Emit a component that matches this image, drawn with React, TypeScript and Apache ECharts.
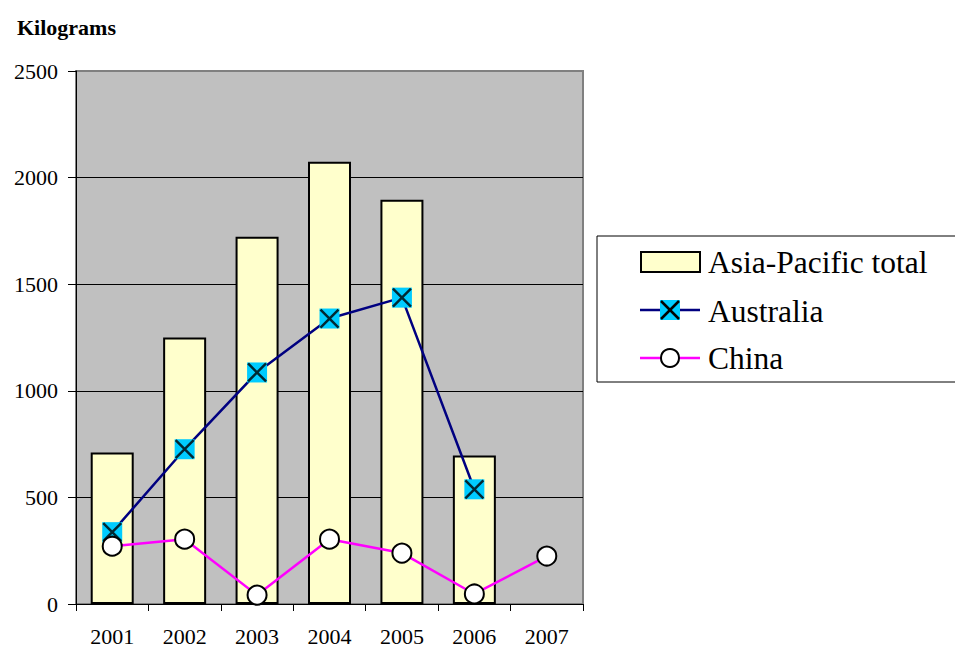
import React, { useEffect, useRef } from "react";
import * as echarts from "echarts";

const years = ["2001", "2002", "2003", "2004", "2005", "2006", "2007"];
const asiaPacificTotal = [711, 1250, 1723, 2074, 1896, 697, null];
const australia = [337, 726, 1086, 1339, 1437, 538, null];
const china = [271, 304, 42, 304, 239, 47, 225];
const yTicks = { min: 0, max: 2500, interval: 500 };

const FONT = "'Liberation Serif', 'Times New Roman', serif";
const X_PATH = "path://M0,0L10,10M10,0L0,10";

export default function App() {
  const ref = useRef<HTMLDivElement>(null);
  useEffect(() => {
    if (!ref.current) return;
    const chart = echarts.init(ref.current, undefined, { renderer: "svg" });
    const lx = 597;
    const ly = 236;
    chart.setOption({
      animation: false,
      backgroundColor: "#ffffff",
      textStyle: { fontFamily: FONT },
      grid: {
        left: 76,
        top: 71,
        right: 372,
        bottom: 43,
        show: true,
        backgroundColor: "#C0C0C0",
        borderColor: "#808080",
        borderWidth: 2,
      },
      xAxis: {
        type: "category",
        data: years,
        boundaryGap: true,
        axisLine: { lineStyle: { color: "#000", width: 1 } },
        axisTick: { show: true, length: 7, lineStyle: { color: "#000" } },
        axisLabel: { color: "#000", fontFamily: FONT, fontSize: 22, margin: 21 },
        splitLine: { show: false },
      },
      yAxis: {
        type: "value",
        min: yTicks.min,
        max: yTicks.max,
        interval: yTicks.interval,
        axisLine: { show: true, lineStyle: { color: "#000", width: 1 } },
        axisTick: { show: true, length: 8, lineStyle: { color: "#000" } },
        axisLabel: {
          color: "#000",
          fontFamily: FONT,
          fontSize: 22,
          margin: 18,
          formatter: (v: number) => String(v),
        },
        splitLine: {
          show: true,
          lineStyle: { color: ["#000", "#000", "#000", "#000", "#000", "#808080"], width: 1 },
        },
      },
      series: [
        {
          name: "Asia-Pacific total",
          type: "bar",
          data: asiaPacificTotal,
          barWidth: 43,
          itemStyle: { color: "#FFFFCC", borderColor: "#000", borderWidth: 2 },
          z: 2,
        },
        {
          name: "Australia",
          type: "line",
          data: australia,
          symbol: "rect",
          symbolSize: 20,
          showAllSymbol: true,
          lineStyle: { color: "#000080", width: 2.5 },
          itemStyle: { color: "#00CCFF", borderWidth: 0 },
          z: 3,
        },
        {
          name: "AustraliaX",
          type: "scatter",
          data: australia,
          symbol: X_PATH,
          symbolSize: 18,
          itemStyle: { color: "none", borderColor: "#000", borderWidth: 2.5 },
          z: 4,
          silent: true,
        },
        {
          name: "China",
          type: "line",
          data: china,
          symbol: "circle",
          symbolSize: 19,
          showAllSymbol: true,
          lineStyle: { color: "#FF00FF", width: 2.5 },
          itemStyle: { color: "#ffffff", borderColor: "#000", borderWidth: 2 },
          z: 5,
        },
      ],
      graphic: [
        {
          type: "text",
          x: 17,
          y: 27,
          style: { text: "Kilograms", font: `bold 22px ${FONT}`, fill: "#000", textVerticalAlign: "middle" },
        },
        {
          type: "group",
          children: [
            {
              type: "rect",
              shape: { x: lx, y: ly, width: 370, height: 146 },
              style: { fill: "#fff", stroke: "#000", lineWidth: 1 },
            },
            {
              type: "rect",
              shape: { x: 641, y: 252, width: 59, height: 20 },
              style: { fill: "#FFFFCC", stroke: "#000", lineWidth: 2 },
            },
            {
              type: "text",
              x: 708,
              y: 262,
              style: { text: "Asia-Pacific total", font: `31.5px ${FONT}`, fill: "#000", textVerticalAlign: "middle" },
            },
            {
              type: "line",
              shape: { x1: 640, y1: 310, x2: 700, y2: 310 },
              style: { stroke: "#000080", lineWidth: 2.5 },
            },
            {
              type: "rect",
              shape: { x: 660, y: 300, width: 20, height: 20 },
              style: { fill: "#00CCFF" },
            },
            {
              type: "line",
              shape: { x1: 661, y1: 301, x2: 679, y2: 319 },
              style: { stroke: "#000", lineWidth: 2.5 },
            },
            {
              type: "line",
              shape: { x1: 679, y1: 301, x2: 661, y2: 319 },
              style: { stroke: "#000", lineWidth: 2.5 },
            },
            {
              type: "text",
              x: 708,
              y: 311,
              style: { text: "Australia", font: `31.5px ${FONT}`, fill: "#000", textVerticalAlign: "middle" },
            },
            {
              type: "line",
              shape: { x1: 640, y1: 358, x2: 700, y2: 358 },
              style: { stroke: "#FF00FF", lineWidth: 2.5 },
            },
            {
              type: "circle",
              shape: { cx: 670, cy: 358, r: 9 },
              style: { fill: "#fff", stroke: "#000", lineWidth: 2 },
            },
            {
              type: "text",
              x: 708,
              y: 358,
              style: { text: "China", font: `31.5px ${FONT}`, fill: "#000", textVerticalAlign: "middle" },
            },
          ],
        },
      ],
    });
    return () => chart.dispose();
  }, []);
  return <div ref={ref} style={{ width: 955, height: 647, position: "absolute", left: 0, top: 0 }} />;
}
